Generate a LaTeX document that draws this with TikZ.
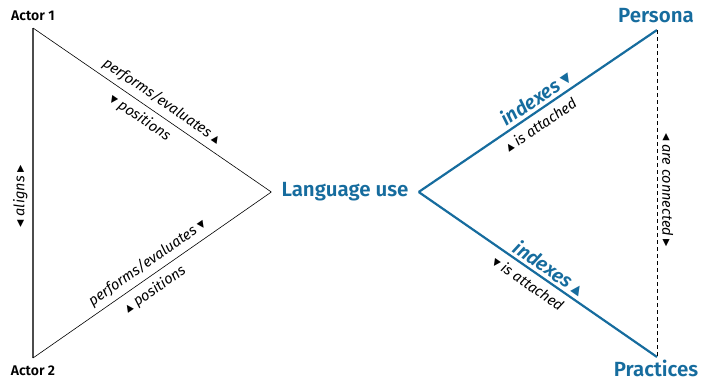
\documentclass[tikz,border=0pt]{standalone}
\usepackage{fontspec}
\setmainfont{Fira Sans}[BoldFont={Fira Sans SemiBold}, BoldItalicFont={Fira Sans SemiBold Italic}]
\newfontfamily\symfont{DejaVu Sans}
\definecolor{langblue}{RGB}{22,108,158}
\newcommand{\triup}{{\symfont ▴}}
\newcommand{\tridn}{{\symfont ▾}}
\newcommand{\trilt}{{\symfont ◂}}
\newcommand{\trirt}{{\symfont ▸}}
\tikzset{
  thinedge/.style={black, line width=0.6pt},
  blueedge/.style={langblue, line width=2.2pt},
  lbl/.style={font=\itshape\fontsize{14.5}{14.5}\selectfont, text=black, sloped, inner sep=1pt},
  bluelbl/.style={font=\bfseries\itshape\fontsize{19.5}{19.5}\selectfont, text=langblue, sloped, inner sep=1pt},
  actor/.style={font=\bfseries\fontsize{14}{14}\selectfont},
  bluevertex/.style={font=\bfseries\fontsize{20.5}{20.5}\selectfont, text=langblue},
}
\begin{document}
\begin{tikzpicture}[x=1pt,y=-1pt]
\useasboundingbox (0,0) rectangle (702,380);
% corners
\coordinate (a1) at (33,28);
\coordinate (a2) at (33,358);
\coordinate (pe) at (657,30);
\coordinate (pr) at (657,357);
\node[bluevertex, inner xsep=10pt] (lang) at (345,192) {Language use};
\node[actor] (actor1) at (33,16) {Actor 1};
\node[actor] (actor2) at (33,371) {Actor 2};
\node[bluevertex] (persona) at (656,16) {Persona};
\node[bluevertex] (practices) at (656,368) {Practices};
% left triangle
\draw[gray!60!black, line width=1.2pt] (a2) -- node[lbl, above=4pt, pos=0.49] {\trilt\ aligns \trirt} (a1);
\draw[thinedge] (a1) -- node[lbl, above=4pt, pos=0.51] {performs/evaluates \triup}
  node[lbl, below=5pt, pos=0.48] {\tridn\ positions} (lang.west);
\draw[thinedge] (a2) -- node[lbl, above=4pt, pos=0.51] {performs/evaluates \tridn}
  node[lbl, below=5pt, pos=0.48] {\triup\ positions} (lang.west);
% right side
\draw[blueedge] (lang.east) -- node[bluelbl, above=2pt, pos=0.52] {indexes \tridn}
  node[lbl, below=5pt, pos=0.48] {\triup\ is attached} (pe);
\draw[blueedge] (lang.east) -- node[bluelbl, above=2pt, pos=0.52] {indexes \triup}
  node[lbl, below=5pt, pos=0.49] {\tridn\ is attached} (pr);
\draw[thinedge, dash pattern=on 4pt off 3pt] (pe) -- node[lbl, above=4pt, pos=0.49] {\trilt\ are connected \trirt} (pr);
\end{tikzpicture}
\end{document}
